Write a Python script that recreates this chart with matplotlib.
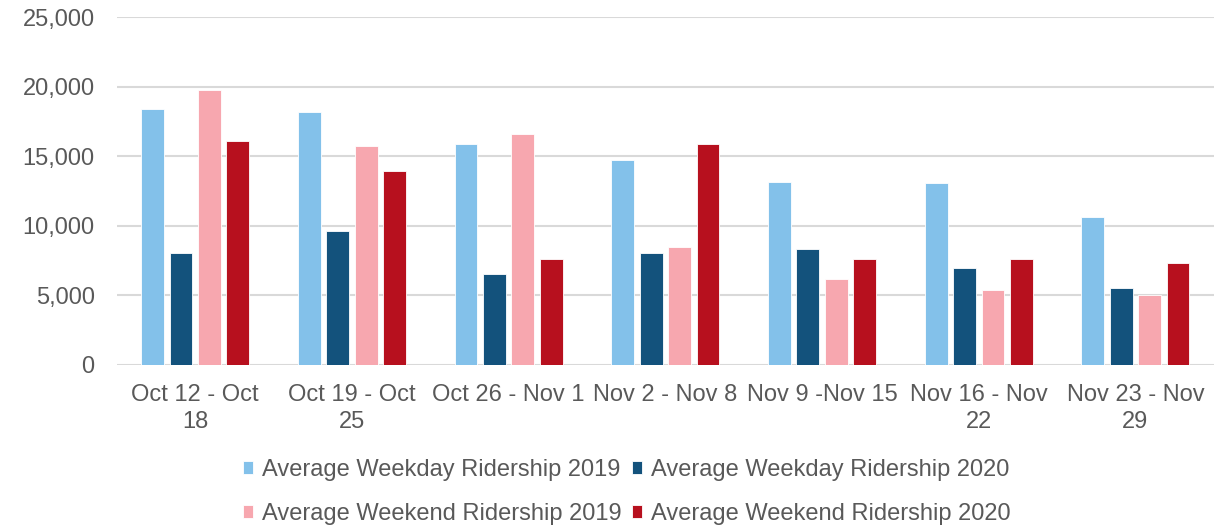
import numpy as np
import matplotlib.pyplot as plt

weeks = ["Oct 12 - Oct\n18", "Oct 19 - Oct\n25", "Oct 26 - Nov 1", "Nov 2 - Nov 8",
         "Nov 9 -Nov 15", "Nov 16 - Nov\n22", "Nov 23 - Nov\n29"]
weekday_2019 = [18400, 18210, 15890, 14760, 13170, 13080, 10610]
weekday_2020 = [8010, 9600, 6540, 8060, 8300, 6930, 5530]
weekend_2019 = [19760, 15760, 16630, 8440, 6140, 5350, 5030]
weekend_2020 = [16080, 13920, 7580, 15860, 7580, 7580, 7310]

series = [
    ("Average Weekday Ridership 2019", weekday_2019, "#83C1EA"),
    ("Average Weekday Ridership 2020", weekday_2020, "#13527C"),
    ("Average Weekend Ridership 2019", weekend_2019, "#F7A7AF"),
    ("Average Weekend Ridership 2020", weekend_2020, "#B7101E"),
]

plt.rcParams['font.family'] = ['Liberation Sans', 'DejaVu Sans']
text_color = "#595959"

fig = plt.figure(figsize=(12.26, 5.27), dpi=100)
ax = fig.add_axes([0.0954, 0.3083, 0.8946, 0.6587])

x = np.arange(len(weeks))
pitch = 0.181
width = 0.145
handles = []
for i, (name, vals, col) in enumerate(series):
    b = ax.bar(x + (i - 1.5) * pitch, vals, width, color=col, label=name,
               edgecolor="white", linewidth=0.6, zorder=3)
    handles.append(b)

ax.set_xlim(-0.5, len(weeks) - 0.5)
ax.set_ylim(0, 25000)
ax.set_yticks(range(0, 25001, 5000))
ax.set_yticklabels([f"{v:,}" for v in range(0, 25001, 5000)])
ax.grid(axis="y", color="#D9D9D9", linewidth=1.5, zorder=0)
for s in ax.spines.values():
    s.set_visible(False)
ax.tick_params(axis="both", length=0, labelsize=17, colors=text_color)
ax.tick_params(axis="y", pad=16)
ax.set_xticks(x)
ax.set_xticklabels(weeks, linespacing=1.3)
ax.tick_params(axis="x", pad=14)

# ncol=2 fills column-wise, so reorder to get weekday on row 1, weekend on row 2
order = [0, 2, 1, 3]
leg = fig.legend([handles[i] for i in order], [series[i][0] for i in order],
                 loc="lower center", bbox_to_anchor=(0.511, -0.037), ncol=2,
                 frameon=False, fontsize=17,
                 handlelength=0.45, handleheight=0.45,
                 handletextpad=0.35, columnspacing=0.45, labelspacing=0.95)
for t in leg.get_texts():
    t.set_color(text_color)

fig.savefig("out.png", dpi=100)
